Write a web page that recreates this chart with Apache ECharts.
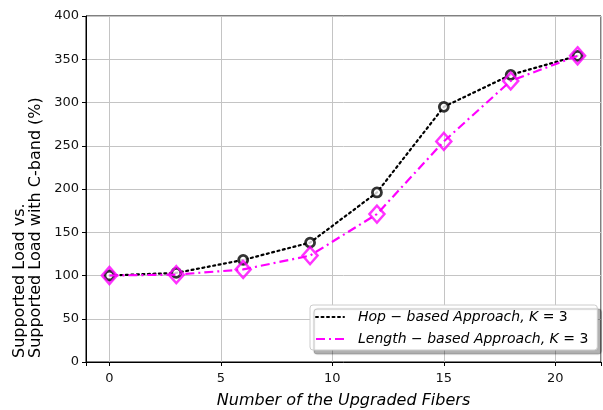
<!DOCTYPE html>
<html>
<head>
<meta charset="utf-8">
<script src="https://cdn.jsdelivr.net/npm/echarts@6/dist/echarts.min.js"></script>
<style>
html,body{margin:0;padding:0;background:#fff;}
#c{width:603px;height:410px;}
</style>
</head>
<body>
<div id="c"></div>
<script>
var fibers = [0, 3, 6, 9, 12, 15, 18, 21];
var hopLoad = [100, 103, 118, 138, 196, 295, 332, 354];
var lengthLoad = [100, 101, 107, 123, 171, 255, 325, 354];
var yTicks = [0, 50, 100, 150, 200, 250, 300, 350, 400];
var hopName = 'Hop';
var lengthName = 'Length';
var legendText = {
  'Hop': '{i|Hop − based Approach, K}{n| = 3}',
  'Length': '{i|Length − based Approach, K}{n| = 3}'
};
var xTitle = 'Number of the Upgraded Fibers';
var yTitle = 'Supported Load vs.\nSupported Load with C-band (%)';

function pairs(xs, ys){ return xs.map(function(x,i){ return [x, ys[i]]; }); }

var font = 'DejaVu Sans';
var chart = echarts.init(document.getElementById('c'), null, {renderer:'canvas'});
chart.setOption({
  animation: false,
  backgroundColor: '#fff',
  grid: {left: 86, right: 2, top: 16, bottom: 48, show: true, borderColor: '#000', borderWidth: 1,
    backgroundColor: 'transparent', containLabel: false, outerBoundsMode: 'none'},
  xAxis: {
    type: 'value', min: -1.05, max: 22.05,
    name: xTitle, nameLocation: 'middle', nameGap: 31,
    nameTextStyle: {fontFamily: font, fontSize: 16, fontStyle: 'italic', color: '#000'},
    axisLine: {show: true, onZero: false, lineStyle: {color: '#000', width: 1}},
    axisTick: {show: true, length: 4, inside: false, lineStyle: {color: '#000'}},
    axisLabel: {fontFamily: font, fontSize: 13, color: '#111', margin: 10,
      formatter: function(v){ return (Math.abs(v - Math.round(v)) < 1e-6 && Math.round(v) % 5 === 0) ? String(Math.round(v)) : ''; }},
    splitLine: {show: true, lineStyle: {color: '#c4c4c4', width: 1}}
  },
  yAxis: {
    type: 'value', min: yTicks[0], max: yTicks[yTicks.length-1], interval: yTicks[1]-yTicks[0],
    axisLine: {show: true, onZero: false, lineStyle: {color: '#000', width: 1}},
    axisTick: {show: true, length: 4, lineStyle: {color: '#000'}},
    axisLabel: {fontFamily: font, fontSize: 13, color: '#111', margin: 7},
    splitLine: {show: true, lineStyle: {color: '#c4c4c4', width: 1}}
  },
  graphic: [{
    type: 'text', x: 28, y: 358, rotation: Math.PI/2,
    style: {text: yTitle, fontFamily: font, fontSize: 16, lineHeight: 16, fill: '#000',
      align: 'left', verticalAlign: 'middle'}
  }],
  legend: {
    orient: 'vertical', left: 310, top: 305,
    data: [hopName, lengthName],
    itemWidth: 28, itemHeight: 14, itemGap: 8,
    padding: [5, 9, 4, 5],
    itemStyle: {color: 'rgba(0,0,0,0)', borderWidth: 0, opacity: 0},
    backgroundColor: '#fff', borderColor: '#cccccc', borderWidth: 1, borderRadius: 3,
    shadowColor: 'rgba(0,0,0,0.3)', shadowBlur: 1, shadowOffsetX: 4, shadowOffsetY: 4,
    formatter: function(n){ return legendText[n]; },
    textStyle: {fontFamily: font, fontSize: 14, color: '#000',
      rich: {
        i: {fontFamily: font, fontSize: 14, fontStyle: 'italic', color: '#000', padding: [0,0,0,9]},
        n: {fontFamily: font, fontSize: 14, color: '#000'}
      }}
  },
  series: [
    {name: hopName, type: 'line', data: pairs(fibers, hopLoad), symbol: 'none',
      lineStyle: {color: '#000', width: 2.2, type: [2, 3.5], cap: 'round'},
      itemStyle: {color: '#000'}, z: 2},
    {name: 'hopMarkers', type: 'scatter', data: pairs(fibers, hopLoad), symbol: 'circle', symbolSize: 9,
      itemStyle: {color: '#fff', borderColor: '#000', borderWidth: 2.8}, z: 3},
    {name: lengthName, type: 'line', data: pairs(fibers, lengthLoad), symbol: 'none',
      lineStyle: {color: '#ff00ff', width: 2.2, type: [9, 4, 2, 4]},
      itemStyle: {color: '#ff00ff'}, z: 4},
    {name: 'lengthMarkers', type: 'scatter', data: pairs(fibers, lengthLoad), symbol: 'diamond', symbolSize: [15, 17],
      itemStyle: {color: 'rgba(255,255,255,0)', borderColor: '#ff00ff', borderWidth: 2.5}, z: 5}
  ]
});
</script>
</body>
</html>
